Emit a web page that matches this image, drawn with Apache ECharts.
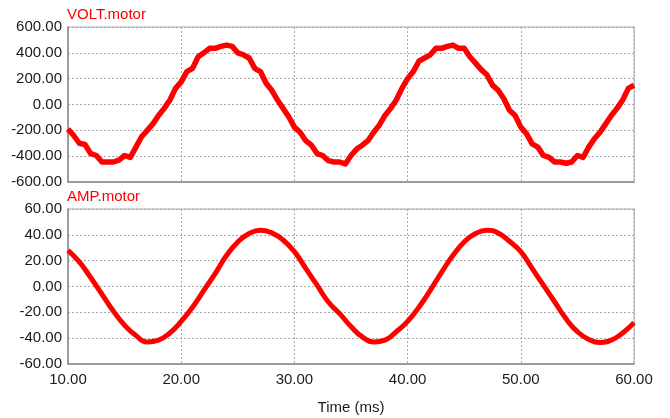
<!DOCTYPE html>
<html>
<head>
<meta charset="utf-8">
<script src="https://cdn.jsdelivr.net/npm/echarts@6/dist/echarts.min.js"></script>
<style>html,body{margin:0;padding:0;background:#fff}#c{width:670px;height:418px}</style>
</head>
<body>
<div id="c"></div>
<script>
// Time axis (ms)
const timeTicks = [10, 20, 30, 40, 50, 60];
// VOLT.motor, sampled every 0.5 ms from 10 ms
const voltStart = 10, voltStep = 0.5;
const voltValues = [
 -190,-240,-300,-310,-380,-395,-445,-445,-445,-430,
 -395,-410,-330,-250,-200,-150,-85,-30,35,125,
 175,255,280,370,400,435,435,450,460,450,
 400,385,360,280,255,165,110,35,-30,-95,
 -175,-215,-280,-315,-380,-395,-435,-445,-445,-460,
 -395,-345,-315,-280,-215,-160,-85,-30,35,125,
 200,255,335,360,385,435,435,450,460,435,
 435,370,320,270,230,150,110,45,-45,-85,
 -175,-225,-305,-330,-395,-410,-445,-445,-455,-445,
 -395,-410,-330,-265,-215,-150,-85,-30,35,125,
 150
];
// AMP.motor, sampled every 1 ms from 10 ms
const ampStart = 10, ampStep = 1;
const ampValues = [
 28,19,7,-6,-19,-30,-38,-43,-41.5,-36,
 -27,-16,-3,10,24,34.5,41,43.6,41.5,36,
 27,14,1,-12,-21,-31,-39,-43,-41.5,-35,
 -27,-16,-3,11,24,34.5,41,43.6,41.5,35,
 27,14,1,-12,-25,-35,-41,-43.4,-41.5,-36,
 -28
];
const voltData = voltValues.map((v, i) => [voltStart + i * voltStep, v]);
const ampData = ampValues.map((v, i) => [ampStart + i * ampStep, v]);

const font = 'Liberation Sans, Arial, sans-serif';
const gridLine = {show: true, lineStyle: {color: '#a8a8a8', type: [2, 2], width: 1}};
const labelStyle = {color: '#1a1a1a', fontSize: 15, fontFamily: font};
const axisLine = {show: true, onZero: false, lineStyle: {color: '#8c8c8c', width: 1.5}};

const chart = echarts.init(document.getElementById('c'), null, {renderer: 'canvas'});
chart.setOption({
  animation: false,
  backgroundColor: '#fff',
  title: [
    {text: 'VOLT.motor', left: 67, top: 7, padding: 0, textStyle: {color: '#ff0000', fontSize: 15, fontWeight: 'normal', fontFamily: font}},
    {text: 'AMP.motor', left: 67, top: 189, padding: 0, textStyle: {color: '#ff0000', fontSize: 15, fontWeight: 'normal', fontFamily: font}}
  ],
  grid: [
    {left: 68, right: 36, top: 27, height: 155, show: true, borderColor: '#c8c8c8', borderWidth: 1.5},
    {left: 68, right: 36, top: 209, height: 155, show: true, borderColor: '#c8c8c8', borderWidth: 1.5}
  ],
  xAxis: [
    {type: 'value', gridIndex: 0, min: 10, max: 60, interval: 10,
     axisLine: axisLine, axisTick: {show: false},
     axisLabel: {show: false}, splitLine: gridLine},
    {type: 'value', gridIndex: 1, min: 10, max: 60, interval: 10,
     name: 'Time (ms)', nameLocation: 'middle', nameGap: 36,
     nameTextStyle: {color: '#1a1a1a', fontSize: 15, fontFamily: font},
     axisLine: axisLine, axisTick: {show: false},
     axisLabel: Object.assign({margin: 8, formatter: v => v.toFixed(2)}, labelStyle), splitLine: gridLine}
  ],
  yAxis: [
    {type: 'value', gridIndex: 0, min: -600, max: 600, interval: 200,
     axisLine: axisLine, axisTick: {show: false},
     axisLabel: Object.assign({margin: 6, formatter: v => v.toFixed(2)}, labelStyle), splitLine: gridLine},
    {type: 'value', gridIndex: 1, min: -60, max: 60, interval: 20,
     axisLine: axisLine, axisTick: {show: false},
     axisLabel: Object.assign({margin: 6, formatter: v => v.toFixed(2)}, labelStyle), splitLine: gridLine}
  ],
  series: [
    {type: 'line', xAxisIndex: 0, yAxisIndex: 0, data: voltData, showSymbol: false,
     lineStyle: {color: '#ff0000', width: 5.5, join: 'round'}, clip: true},
    {type: 'line', xAxisIndex: 1, yAxisIndex: 1, data: ampData, showSymbol: false, smooth: true,
     lineStyle: {color: '#ff0000', width: 5}, clip: true}
  ]
});
</script>
</body>
</html>
